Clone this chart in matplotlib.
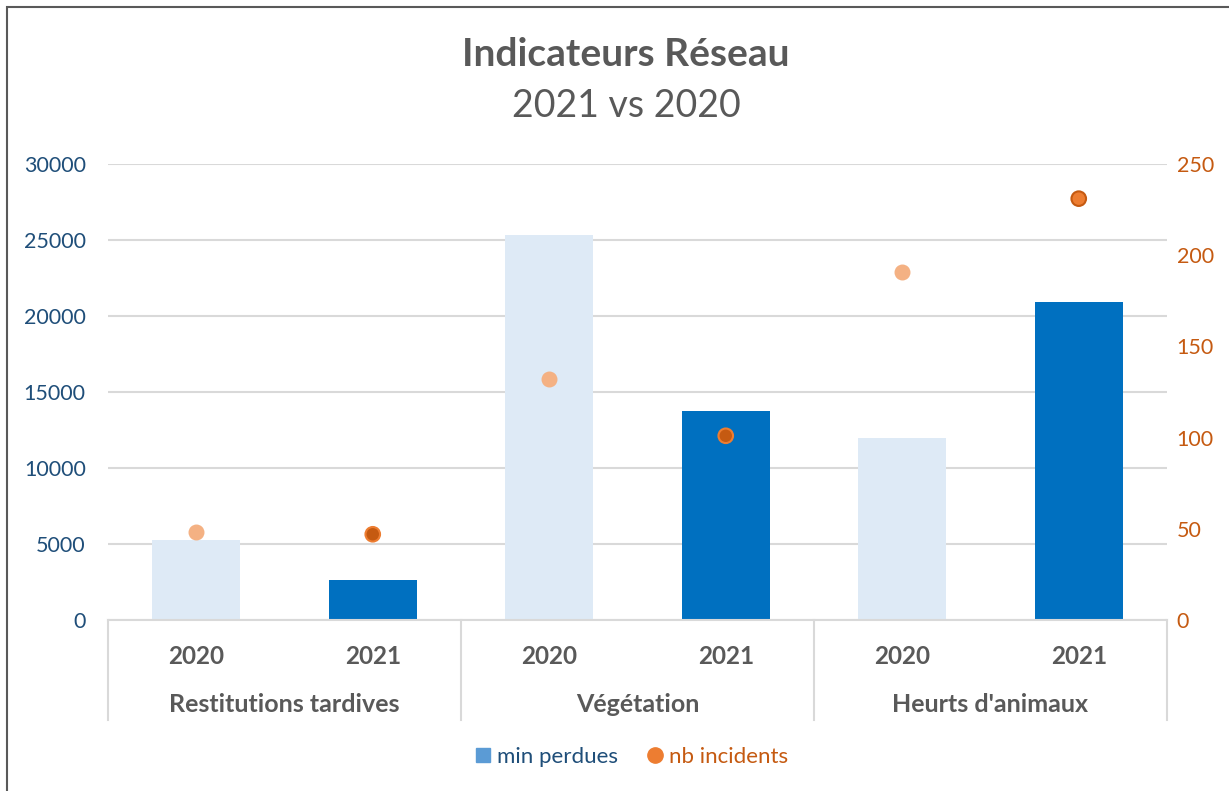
import numpy as np
import matplotlib
matplotlib.use('Agg')
import matplotlib.pyplot as plt
from matplotlib.lines import Line2D
from matplotlib.patches import Rectangle
import matplotlib.transforms as mtransforms

# data
categories = ["Restitutions tardives", "Végétation", "Heurts d'animaux"]
years = ["2020", "2021"]
min_perdues_2020 = [5250, 25300, 12000]
min_perdues_2021 = [2600, 13750, 20950]
nb_incidents_2020 = [48, 132, 191]
nb_incidents_2021 = [47, 101, 231]

plt.rcParams['font.family'] = ['Lato', 'DejaVu Sans']

GREY = '#595959'
GRID = '#D9D9D9'
BLUE_TXT = '#1F4E79'
ORANGE_TXT = '#C55A11'

fig = plt.figure(figsize=(12.29, 7.91), dpi=100)
ax = fig.add_axes([108/1229, 171/791, 1059/1229, 456/791])
ax2 = ax.twinx()

n = len(categories)
x20 = np.arange(n) * 2
x21 = np.arange(n) * 2 + 1

ax.bar(x20, min_perdues_2020, width=0.5, color='#DEEAF6', zorder=2)
ax.bar(x21, min_perdues_2021, width=0.5, color='#0070C0', zorder=2)

# 2020 points pale, 2021 points darker (as in the reference)
ax2.scatter(x20, nb_incidents_2020, s=110, color='#F4B183', edgecolors='#F4B183', zorder=3)
face21 = ['#C55A11', '#C55A11', '#ED7D31']
edge21 = ['#ED7D31', '#ED7D31', '#C55A11']
ax2.scatter(x21, nb_incidents_2021, s=110, c=face21, edgecolors=edge21, linewidths=1.5, zorder=3)

ax.set_xlim(-0.5, 2*n - 0.5)
ax.set_ylim(0, 30000)
ax.set_yticks(np.arange(0, 30001, 5000))
ax2.set_ylim(0, 250)
ax2.set_yticks(np.arange(0, 251, 50))

ax.grid(axis='y', color=GRID, linewidth=1.5, zorder=0)
ax.set_axisbelow(True)
for a in (ax, ax2):
    for s in a.spines.values():
        s.set_visible(False)
ax.spines['bottom'].set_visible(True)
ax.spines['bottom'].set_color(GRID)
ax.spines['bottom'].set_linewidth(1.5)

ax.tick_params(axis='y', length=0, pad=16, labelsize=15.5, labelcolor=BLUE_TXT)
ax2.tick_params(axis='y', length=0, pad=7, labelsize=15.5, labelcolor=ORANGE_TXT)

# year labels
xs = np.sort(np.concatenate([x20, x21]))
ax.set_xticks(xs)
ax.set_xticklabels(years * n, fontsize=17.5, fontweight='bold', color=GREY)
ax.tick_params(axis='x', length=0, pad=18)

# category labels and separators below the axis
trans = mtransforms.blended_transform_factory(ax.transData, ax.transAxes)
for i, cat in enumerate(categories):
    ax.text(2*i + 0.5, -85/456, cat, transform=trans, ha='center', va='center',
            fontsize=18, fontweight='bold', color=GREY)
for xb in np.arange(n + 1) * 2 - 0.5:
    ax.plot([xb, xb], [0, -100/456], transform=trans, color=GRID, lw=1.5, clip_on=False)

# titles
fig.text(626/1229, 1 - 55/791, 'Indicateurs Réseau', ha='center', va='center',
         fontsize=28, fontweight='bold', color=GREY)
fig.text(626/1229, 1 - 106/791, '2021 vs 2020', ha='center', va='center',
         fontsize=27, color=GREY)

# legend
handles = [Line2D([], [], marker='s', linestyle='', color='#5B9BD5', markersize=10),
           Line2D([], [], marker='o', linestyle='', color='#ED7D31', markersize=11)]
leg = fig.legend(handles, ['min perdues', 'nb incidents'], loc='center',
                 bbox_to_anchor=(630/1229, 1 - 757/791), ncol=2, frameon=False,
                 fontsize=16, handletextpad=0.1, columnspacing=1.2, handlelength=1)
leg.get_texts()[0].set_color(BLUE_TXT)
leg.get_texts()[1].set_color(ORANGE_TXT)

# outer frame
fig.patches.append(Rectangle((7/1229, -0.1), 1.2, 1.1 - 7/791, transform=fig.transFigure,
                             fill=False, edgecolor='#595959', linewidth=1.5))

fig.savefig('out.png', dpi=100)
